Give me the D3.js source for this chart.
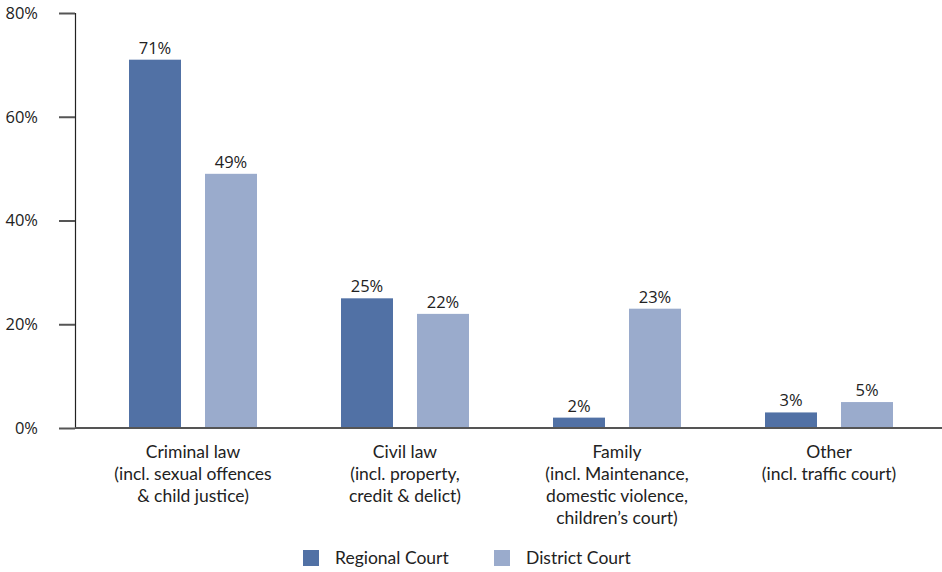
<!DOCTYPE html>
<html>
<head>
<meta charset="utf-8">
<script src="https://cdn.jsdelivr.net/npm/d3@7"></script>
<style>
  body { margin: 0; background: #fff; }
  svg { display: block; }
</style>
</head>
<body>
<svg id="chart" width="942" height="572"></svg>
<script>
// categories (each label split into lines)
const categories = ["Criminal law", "Civil law", "Family", "Other"];
const categoryLines = [
    ["Criminal law", "(incl. sexual offences", "& child justice)"],
    ["Civil law", "(incl. property,", "credit & delict)"],
    ["Family", "(incl. Maintenance,", "domestic violence,", "children\u2019s court)"],
    ["Other", "(incl. traffic court)"]
];
const seriesNames = ["Regional Court", "District Court"];
const regionalCourt = [71, 25, 2, 3];
const districtCourt = [49, 22, 23, 5];
const yTicks = [0, 20, 40, 60, 80];
const colors = ["#5171a5", "#9aabcc"];

const svg = d3.select("#chart");
const labelFont = "Lato, 'Open Sans', sans-serif";

const x = d3.scaleBand()
    .domain(categories)
    .range([87, 935]);

// two bars 52px wide with a 24px gap, centred in each band
const xSub = d3.scaleBand()
    .domain(seriesNames)
    .range([x.bandwidth() / 2 - 64, x.bandwidth() / 2 + 64])
    .paddingInner(24 / 76);

const y = d3.scaleLinear()
    .domain([0, 80])
    .range([428, 13]);

// y axis
const yAxis = svg.append("g")
    .attr("transform", "translate(75,0)")
    .call(d3.axisLeft(y).tickValues(yTicks).tickFormat(d => d + "%").tickSize(16).tickPadding(21));
yAxis.select(".domain").attr("stroke", "#222").attr("stroke-width", 1.2);
yAxis.selectAll(".tick line").attr("stroke", "#555").attr("stroke-width", 2);
yAxis.selectAll(".tick text")
    .attr("font-family", "'Open Sans', sans-serif")
    .attr("font-size", 16.5)
    .attr("fill", "#222");

// bars
const rows = categories.map((c, i) => ({
    cat: c,
    vals: [
        { s: seriesNames[0], v: regionalCourt[i] },
        { s: seriesNames[1], v: districtCourt[i] }
    ]
}));

const groups = svg.append("g").selectAll("g")
    .data(rows)
    .join("g")
    .attr("transform", d => `translate(${x(d.cat)},0)`);

groups.selectAll("rect")
    .data(d => d.vals)
    .join("rect")
    .attr("x", d => xSub(d.s))
    .attr("y", d => y(d.v))
    .attr("width", xSub.bandwidth())
    .attr("height", d => y(0) - y(d.v))
    .attr("fill", (d, i) => colors[i]);

groups.selectAll("text.val")
    .data(d => d.vals)
    .join("text")
    .attr("class", "val")
    .attr("x", d => xSub(d.s) + xSub.bandwidth() / 2)
    .attr("y", d => y(d.v) - 6)
    .attr("text-anchor", "middle")
    .attr("font-family", "'Open Sans', sans-serif")
    .attr("font-size", 16.5)
    .attr("fill", "#222")
    .text(d => d.v + "%");

// x axis line
svg.append("line")
    .attr("x1", 75).attr("x2", 942)
    .attr("y1", y(0)).attr("y2", y(0))
    .attr("stroke", "#555")
    .attr("stroke-width", 2);

// category labels
svg.append("g").selectAll("text")
    .data(categories)
    .join("text")
    .attr("x", d => x(d) + x.bandwidth() / 2)
    .attr("y", 458)
    .attr("text-anchor", "middle")
    .attr("font-family", labelFont)
    .attr("font-size", 17.5)
    .attr("fill", "#222")
    .selectAll("tspan")
    .data((d, i) => categoryLines[i])
    .join("tspan")
    .attr("x", function () { return d3.select(this.parentNode).attr("x"); })
    .attr("dy", (d, i) => i === 0 ? 0 : 22)
    .text(d => d);

// legend
const legendX = [303, 494];
const legend = svg.append("g").selectAll("g")
    .data(seriesNames)
    .join("g")
    .attr("transform", (d, i) => `translate(${legendX[i]},550)`);
legend.append("rect")
    .attr("width", 16).attr("height", 16)
    .attr("fill", (d, i) => colors[i]);
legend.append("text")
    .attr("x", 32).attr("y", 14)
    .attr("font-family", labelFont)
    .attr("font-size", 17.5)
    .attr("fill", "#222")
    .text(d => d);
</script>
</body>
</html>
